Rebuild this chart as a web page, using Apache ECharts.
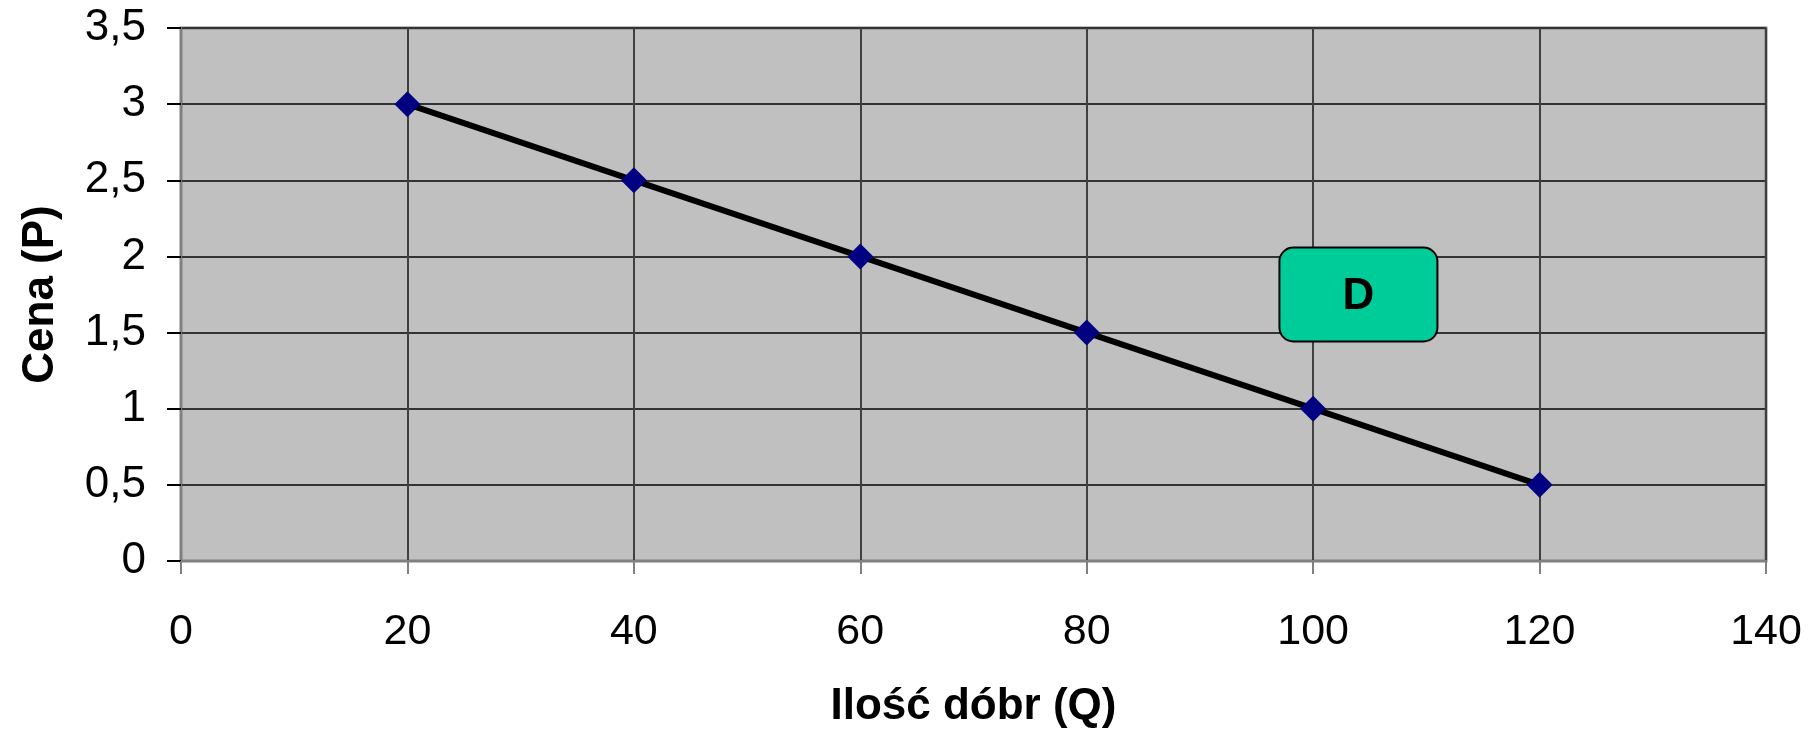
<!DOCTYPE html>
<html>
<head>
<meta charset="utf-8">
<script src="https://cdn.jsdelivr.net/npm/echarts@6/dist/echarts.min.js"></script>
<style>
html,body{margin:0;padding:0;background:#fff;}
#c{width:1813px;height:730px;}
</style>
</head>
<body>
<div id="c"></div>
<script>
const quantities = [20, 40, 60, 80, 100, 120];
const prices = [3, 2.5, 2, 1.5, 1, 0.5];
const xTitle = 'Ilość dóbr (Q)';
const yTitle = 'Cena (P)';
const curveLabel = 'D';
const labelAnchor = [104, 1.75];

const FONT = '"Liberation Sans", Arial, sans-serif';
const chart = echarts.init(document.getElementById('c'), null, {renderer: 'canvas'});
const option = {
  animation: false,
  backgroundColor: '#ffffff',
  grid: {
    left: 181, top: 28, width: 1585, height: 533,
    containLabel: false, outerBoundsMode: 'none',
    show: true, backgroundColor: '#c0c0c0', borderColor: '#808080', borderWidth: 3
  },
  xAxis: {
    type: 'value', min: 0, max: 140, interval: 20,
    name: xTitle, nameLocation: 'middle', nameGap: 124,
    nameTextStyle: {fontFamily: FONT, fontSize: 44, fontWeight: 'bold', color: '#000'},
    axisLine: {show: true, onZero: false, lineStyle: {color: '#808080', width: 2}},
    axisTick: {show: true, length: 13, lineStyle: {color: '#808080', width: 2}},
    axisLabel: {fontFamily: FONT, fontSize: 43, color: '#000', margin: 50},
    splitLine: {show: true, lineStyle: {color: '#404040', width: 2}}
  },
  yAxis: {
    type: 'value', min: 0, max: 3.5, interval: 0.5,
    name: yTitle, nameLocation: 'middle', nameGap: 118, nameRotate: 90,
    nameTextStyle: {fontFamily: FONT, fontSize: 44, fontWeight: 'bold', color: '#000'},
    axisLine: {show: true, onZero: false, lineStyle: {color: '#808080', width: 2}},
    axisTick: {show: true, length: 14, lineStyle: {color: '#000', width: 2}},
    axisLabel: {fontFamily: FONT, fontSize: 44, color: '#000', margin: 35,
      formatter: v => String(v).replace('.', ',')},
    splitLine: {show: true, lineStyle: {color: '#333333', width: 2}}
  },
  series: [{
    type: 'line',
    data: quantities.map((q, i) => [q, prices[i]]),
    symbol: 'diamond', symbolSize: 26,
    itemStyle: {color: '#000080'},
    lineStyle: {color: '#000000', width: 6},
    z: 3
  }]
};
chart.setOption(option);
const p = chart.convertToPixel({gridIndex: 0}, labelAnchor);
chart.setOption({
  graphic: [{
    type: 'group', x: p[0], y: p[1], z: 100,
    children: [
      {type: 'rect', shape: {x: -79, y: -47, width: 158, height: 94, r: 14},
       style: {fill: '#00cc99', stroke: '#000', lineWidth: 2}},
      {type: 'text', style: {text: curveLabel, x: 0, y: 2, align: 'center', verticalAlign: 'middle',
        font: 'bold 44px ' + FONT, fill: '#000'}}
    ]
  }]
});
</script>
</body>
</html>
